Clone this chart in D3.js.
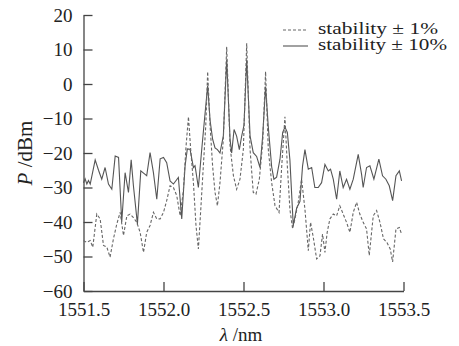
<!DOCTYPE html>
<html>
<head>
<meta charset="utf-8">
<script src="https://cdn.jsdelivr.net/npm/d3@7"></script>
<style>
  body { margin: 0; background: #fff; }
  svg text { font-family: "Times New Roman", "Liberation Serif", Times, serif; fill: #222; }
</style>
</head>
<body>
<div id="chart"></div>
<script>
// wavelength (nm) / power (dBm)
var wl1 = [1551.500, 1551.521, 1551.542, 1551.558, 1551.583, 1551.604, 1551.625, 1551.646, 1551.666, 1551.687,
  1551.708, 1551.729, 1551.750, 1551.771, 1551.791, 1551.812, 1551.833, 1551.854, 1551.875, 1551.895,
  1551.916, 1551.937, 1551.958, 1551.979, 1552.000, 1552.020, 1552.041, 1552.062, 1552.083, 1552.104,
  1552.124, 1552.141, 1552.156, 1552.170, 1552.187, 1552.203, 1552.218, 1552.233, 1552.249, 1552.264,
  1552.276, 1552.291, 1552.307, 1552.322, 1552.337, 1552.353, 1552.374, 1552.395, 1552.416, 1552.437,
  1552.457, 1552.478, 1552.499, 1552.520, 1552.541, 1552.561, 1552.578, 1552.599, 1552.620, 1552.638,
  1552.655, 1552.676, 1552.697, 1552.722, 1552.739, 1552.759, 1552.774, 1552.790, 1552.807, 1552.822,
  1552.842, 1552.863, 1552.884, 1552.905, 1552.919, 1552.936, 1552.957, 1552.978, 1552.994, 1553.009,
  1553.023, 1553.040, 1553.061, 1553.082, 1553.102, 1553.123, 1553.144, 1553.165, 1553.186, 1553.207,
  1553.227, 1553.248, 1553.269, 1553.286, 1553.311, 1553.332, 1553.353, 1553.375, 1553.396, 1553.417,
  1553.432, 1553.453, 1553.474, 1553.488];
var p1 = [-45.4, -45.9, -45.4, -47.3, -37.7, -39.1, -46.8, -47.3, -50.2, -44.9,
  -40.6, -37.2, -43.9, -38.2, -37.7, -38.7, -40.1, -43.0, -48.8, -43.0,
  -41.0, -37.2, -39.1, -39.1, -37.2, -33.8, -29.5, -30.0, -32.4, -38.2,
  -31.0, -18.0, -9.5, -19.0, -28.6, -41.0, -47.8, -36.3, -23.8, -12.2,
  3.6, -12.0, -23.8, -31.4, -35.3, -28.6, -16.0, 10.8, -18.0, -26.6,
  -30.5, -27.6, -19.0, 11.8, -19.0, -31.4, -31.9, -27.6, -17.0, 3.6,
  -19.0, -28.6, -35.3, -37.2, -23.8, -9.5, -23.8, -36.3, -42.0, -39.0,
  -34.3, -27.6, -36.3, -48.3, -40.1, -44.4, -50.7, -49.8, -43.5, -48.8,
  -43.0, -39.1, -37.7, -38.2, -35.3, -37.7, -40.1, -43.0, -37.2, -34.3,
  -37.7, -40.1, -42.0, -49.7, -38.2, -36.7, -40.1, -44.9, -45.9, -47.8,
  -51.6, -42.0, -41.6, -43.5];

var wl10 = [1551.500, 1551.510, 1551.521, 1551.531, 1551.542, 1551.573, 1551.594, 1551.614, 1551.635, 1551.656,
  1551.677, 1551.698, 1551.719, 1551.739, 1551.760, 1551.781, 1551.798, 1551.812, 1551.837, 1551.858,
  1551.885, 1551.895, 1551.916, 1551.937, 1551.958, 1551.979, 1552.000, 1552.020, 1552.041, 1552.062,
  1552.093, 1552.114, 1552.135, 1552.149, 1552.166, 1552.187, 1552.197, 1552.218, 1552.239, 1552.260,
  1552.276, 1552.291, 1552.307, 1552.322, 1552.337, 1552.353, 1552.374, 1552.395, 1552.416, 1552.426,
  1552.441, 1552.457, 1552.474, 1552.489, 1552.503, 1552.520, 1552.541, 1552.561, 1552.582, 1552.603,
  1552.620, 1552.638, 1552.655, 1552.676, 1552.690, 1552.707, 1552.728, 1552.745, 1552.759, 1552.774,
  1552.790, 1552.811, 1552.832, 1552.853, 1552.869, 1552.884, 1552.905, 1552.926, 1552.946, 1552.967,
  1552.988, 1553.009, 1553.030, 1553.044, 1553.061, 1553.082, 1553.102, 1553.123, 1553.144, 1553.165,
  1553.186, 1553.217, 1553.238, 1553.248, 1553.269, 1553.290, 1553.315, 1553.346, 1553.369, 1553.390,
  1553.411, 1553.432, 1553.453, 1553.474, 1553.488];
var p10 = [-28.6, -27.5, -29.0, -28.0, -29.0, -22.0, -25.0, -27.6, -24.2, -29.0,
  -30.5, -20.9, -21.3, -40.0, -25.7, -31.4, -22.0, -29.5, -40.6, -25.2,
  -26.2, -26.6, -19.9, -25.7, -33.4, -21.7, -21.3, -22.8, -28.1, -29.0,
  -27.1, -39.1, -23.7, -18.8, -18.9, -24.2, -23.7, -30.0, -18.9, -8.4,
  -0.5, -10.5, -16.0, -18.5, -19.0, -20.0, -15.0, 7.0, -16.0, -20.0,
  -13.2, -15.1, -19.0, -15.0, -12.0, 7.0, -15.0, -19.9, -21.0, -24.2,
  -15.0, -0.8, -12.5, -24.0, -27.6, -27.0, -21.8, -14.0, -12.5, -14.0,
  -22.0, -41.0, -36.0, -34.0, -23.8, -19.0, -24.7, -24.2, -30.0, -30.0,
  -28.6, -23.3, -25.2, -24.7, -27.6, -33.4, -25.2, -30.0, -27.6, -30.5,
  -27.6, -20.4, -26.2, -30.0, -24.2, -23.7, -27.6, -21.8, -26.6, -27.6,
  -29.5, -33.8, -26.6, -25.2, -28.1];

var xTicks = [1551.5, 1552.0, 1552.5, 1553.0, 1553.5];
var yTicks = [20, 10, 0, -10, -20, -30, -40, -50, -60];
var legendLabels = ["stability \u00b1 1%", "stability \u00b1 10%"];

var serif = '"Times New Roman", "Liberation Serif", Times, serif';
var width = 459, height = 346;
var svg = d3.select("#chart").append("svg")
  .attr("width", width).attr("height", height);

var x = d3.scaleLinear().domain([1551.5, 1553.5]).range([83.5, 403.5]);
var y = d3.scaleLinear().domain([-60, 20]).range([291, 15]);

var axisColor = "#444";

// axes (ticks point inward)
var yAxis = svg.append("g")
  .attr("transform", "translate(" + x.range()[0] + ",0)")
  .call(d3.axisLeft(y).tickValues(yTicks).tickSizeInner(-9).tickSizeOuter(0).tickPadding(11)
    .tickFormat(function (d) { return d < 0 ? "\u2212" + Math.abs(d) : d; }));
var xAxis = svg.append("g")
  .attr("transform", "translate(0," + y.range()[0] + ")")
  .call(d3.axisBottom(x).tickValues(xTicks).tickSizeInner(-9).tickSizeOuter(0).tickPadding(12)
    .tickFormat(d3.format(".1f")));

[xAxis, yAxis].forEach(function (a) {
  a.attr("font-family", serif).attr("font-size", 19);
  a.selectAll("path, line").attr("stroke", axisColor).attr("stroke-width", 1.3);
  a.selectAll("text").attr("fill", "#222");
});

// the series
var line = d3.line()
  .x(function (d) { return x(d[0]); })
  .y(function (d) { return y(d[1]); });

var s1 = d3.zip(wl1, p1);
var s10 = d3.zip(wl10, p10);

svg.append("path").datum(s10)
  .attr("d", line).attr("fill", "none")
  .attr("stroke", "#555").attr("stroke-width", 1.1);

svg.append("path").datum(s1)
  .attr("d", line).attr("fill", "none")
  .attr("stroke", "#666").attr("stroke-width", 1.1)
  .attr("stroke-dasharray", "3,2");

// legend
var leg = svg.append("g").attr("font-family", serif);
var legRows = [
  { label: legendLabels[0], dash: "3,2", y: 30, len: 120 },
  { label: legendLabels[1], dash: null, y: 46, len: 129 }
];
legRows.forEach(function (r) {
  leg.append("line")
    .attr("x1", 283).attr("x2", 308).attr("y1", r.y).attr("y2", r.y)
    .attr("stroke", r.dash ? "#666" : "#555").attr("stroke-width", 1.1)
    .attr("stroke-dasharray", r.dash);
  leg.append("text")
    .attr("x", 318).attr("y", r.y + 4)
    .attr("textLength", r.len).attr("lengthAdjust", "spacingAndGlyphs")
    .style("font-size", "16px")
    .text(r.label);
});

// axis titles
var yt = svg.append("text")
  .attr("transform", "translate(32,153) rotate(-90)")
  .attr("text-anchor", "middle")
  .style("font-size", "21px");
yt.append("tspan").style("font-style", "italic").text("P");
yt.append("tspan").text(" /dBm");

var xt = svg.append("text")
  .attr("x", 241).attr("y", 341)
  .attr("text-anchor", "middle")
  .style("font-size", "19px");
xt.append("tspan").style("font-style", "italic").text("\u03bb");
xt.append("tspan").text(" /nm");
</script>
</body>
</html>
